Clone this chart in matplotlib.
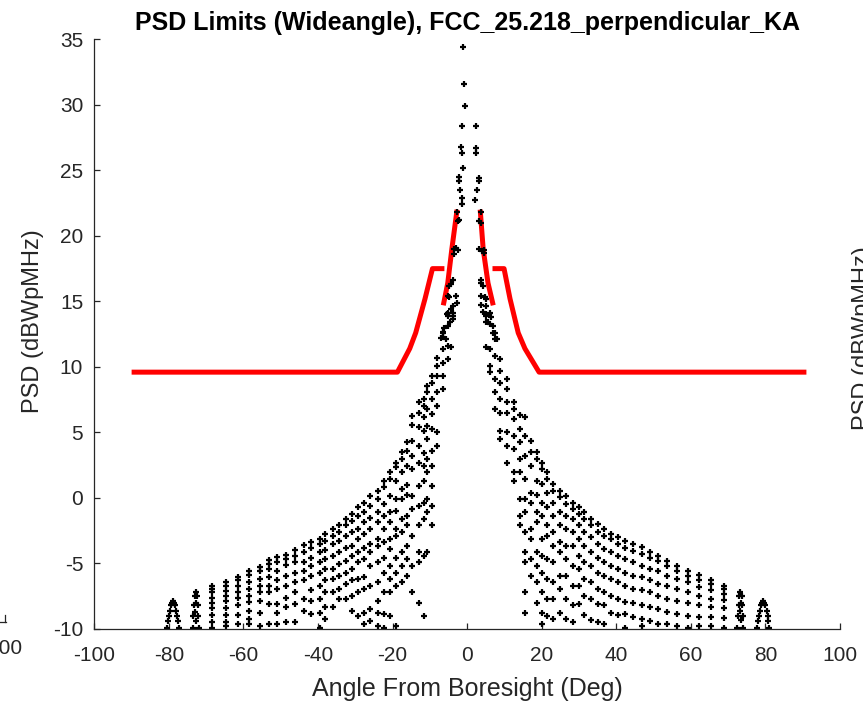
import matplotlib
matplotlib.use("Agg")
import matplotlib.pyplot as plt
from matplotlib.lines import Line2D

plt.rcParams["font.family"] = ["Liberation Sans", "DejaVu Sans"]
plt.rcParams["axes.unicode_minus"] = False

# ---------------- red PSD limit mask ----------------
mask_outer_l_x = [-90.0, -18.7, -15.4, -13.8, -11.3, -9.3, -6.1]
mask_outer_l_y = [9.6, 9.6, 11.4, 12.6, 15.2, 17.5, 17.5]
mask_inner_l_x = [-6.4, -5.2, -4.1, -2.7]
mask_inner_l_y = [14.7, 16.4, 19.0, 22.0]
mask_inner_r_x = [3.5, 4.3, 5.6, 7.0]
mask_inner_r_y = [22.0, 19.0, 16.4, 14.7]
mask_outer_r_x = [6.8, 9.9, 11.5, 13.7, 15.5, 19.3, 91.0]
mask_outer_r_y = [17.5, 17.5, 15.2, 12.6, 11.4, 9.6, 9.6]

# ---------------- black PSD samples ----------------
# main beam / near-in points
core_x = [-1.0, -0.8, -0.6, -1.4, 2.4, -1.6, 2.5, -1.4, 2.5, -1.2, -2.3, -2.3, 3.3, 3.3,
          -1.8, 2.7, -1.4, -1.4, 2.2, -2.7, 3.6, -2.5, -2.1, 3.1, 3.8, -3.4, -3.0, -2.5,
          3.3, 4.0, 4.5, -4.8, -4.2, -3.9, 3.6, 4.2, 3.8, -5.2, -4.8, -3.0, -2.7, 3.8,
          4.7, 3.8, -4.3, -3.9, -4.5, 4.2, 5.1, 5.6, -6.6, -7.0, -5.7, 7.0, 7.9, -4.3, 5.1,
          -3.6, -5.5, -6.2, 4.4, 6.4, 6.9]
core_y = [34.4, 31.6, 29.9, 28.4, 28.4, 26.8, 26.7, 26.3, 26.3, 25.2, 24.5, 24.2, 24.4, 24.2,
          23.5, 23.5, 22.9, 22.4, 22.7, 21.8, 21.8, 21.1, 21.2, 21.1, 21.0, 19.0, 19.1, 18.9,
          19.0, 18.85, 18.9, 16.2, 16.3, 16.6, 16.4, 16.2, 16.6, 15.4, 15.3, 15.4, 14.9, 15.4,
          15.3, 14.7, 14.4, 13.9, 13.4, 14.2, 13.9, 13.4, 12.7, 12.2, 12.1, 12.6, 12.1, 11.5, 11.5,
          18.6, 14.0, 13.0, 18.7, 13.8, 13.1]

# far sidelobe arches
arch_l_x = [-80.5, -80.3, -80.1, -79.8, -79.5, -79.2, -78.9, -78.6, -78.3, -78.0, -77.7, -77.5, -77.3,
            -73.6, -73.5, -73.3, -73.1, -72.8, -72.5, -72.3, -72.1, -72.0, -73.0, -72.6, -72.7]
arch_l_y = [-9.9, -9.4, -9.0, -8.6, -8.2, -8.0, -7.9, -8.0, -8.2, -8.6, -9.0, -9.4, -9.9,
            -9.9, -9.0, -8.2, -7.5, -7.2, -7.5, -8.2, -9.0, -9.9, -8.7, -9.4, -8.0]
arch_r_x = [77.8, 78.0, 78.2, 78.5, 78.8, 79.1, 79.4, 79.7, 80.0, 80.3, 80.6, 80.8, 81.0,
            72.5, 72.6, 72.8, 73.0, 73.3, 73.6, 73.8, 74.0, 74.1, 73.1, 73.5, 73.4]
arch_r_y = [-9.9, -9.4, -9.0, -8.6, -8.2, -8.0, -7.85, -8.0, -8.2, -8.6, -9.0, -9.4, -9.9,
            -9.9, -9.0, -8.2, -7.5, -7.15, -7.5, -8.2, -9.0, -9.9, -8.6, -9.3, -8.0]

# sidelobe columns, left side
cols_l_x = [-68.5, -64.7, -61.4, -58.5, -55.6, -53.1, -50.9, -48.6, -46.3, -43.8, -41.8,
            -39.6, -38.2, -36.1, -34.3, -32.5, -31.0, -29.2, -27.6, -26.0, -24.0, -22.4,
            -20.8, -19.2, -17.4, -16.1, -14.7, -13.0, -11.6, -10.7, -9.4, -8.0, -6.6, -5.2, -3.9]
cols_l_y = [
    [-6.7, -6.95, -7.2, -7.6, -8.0, -8.4, -8.9, -9.5, -9.9],
    [-6.4, -6.7, -7.1, -7.5, -7.85, -8.4, -8.9, -9.5, -9.75],
    [-6.0, -6.3, -6.7, -7.15, -7.6, -8.2, -8.9, -9.6],
    [-5.6, -5.9, -6.45, -6.95, -7.5, -7.95, -8.6, -9.25, -9.6],
    [-5.25, -5.55, -6.15, -6.7, -7.2, -7.85, -8.75, -9.75],
    [-4.7, -5.05, -5.4, -6.05, -6.7, -7.2, -8.1, -9.6],
    [-4.5, -4.9, -5.55, -6.3, -6.95, -8.1, -8.75, -9.6],
    [-4.35, -4.65, -5.15, -5.95, -6.7, -7.6, -8.35, -9.5],
    [-3.95, -4.4, -4.9, -5.7, -6.45, -7.2, -8.1, -9.5],
    [-3.6, -4.15, -4.9, -5.55, -6.3, -7.7, -8.6],
    [-3.35, -3.8, -4.55, -5.2, -5.95, -7.0, -7.85, -8.85],
    [-3.1, -3.5, -4.15, -4.9, -5.7, -6.7, -7.7, -8.75, -9.9],
    [-2.75, -3.25, -4.0, -4.65, -5.4, -6.3, -7.2, -8.35, -9.25],
    [-2.4, -2.9, -3.5, -4.4, -5.4, -6.2, -7.2, -8.35],
    [-2.1, -2.6, -3.25, -4.15, -5.05, -5.95, -6.95, -7.7],
    [-1.6, -2.1, -2.9, -3.8, -4.8, -5.7, -6.6, -7.7],
    [-1.25, -1.75, -2.6, -3.65, -4.4, -5.4, -6.3, -7.45, -8.6],
    [-0.7, -1.35, -2.35, -3.15, -4.15, -4.9, -6.2, -7.2, -9.0],
    [-0.35, -1.1, -1.85, -2.75, -3.8, -4.65, -6.0, -6.95, -8.75, -9.6],
    [0.15, -0.6, -1.5, -2.35, -3.55, -4.15, -5.2, -6.7, -8.5, -9.4],
    [0.55, -0.1, -1.1, -1.85, -3.15, -3.65, -4.9, -6.45, -7.85, -8.75, -9.75],
    [1.3, 0.8, -0.45, -1.35, -2.35, -3.4, -4.55, -5.7, -7.2, -8.85, -9.9],
    [1.95, 1.45, 0.15, -1.1, -1.85, -3.15, -3.9, -5.2, -6.2, -7.2, -9.0],
    [2.7, 2.35, 1.3, -0.1, -1.0, -2.35, -2.9, -4.55, -5.7, -6.7, -9.75],
    [3.5, 3.0, 1.95, 0.7, -0.1, -1.6, -2.6, -4.15, -5.2, -6.45],
    [4.25, 3.6, 2.45, 0.95, 0.2, -1.35, -2.1, -3.65, -4.65, -5.95],
    [6.25, 5.6, 4.35, 3.2, 2.2, 0.15, -0.85, -2.9, -5.2, -7.2],
    [7.3, 6.5, 5.4, 4.0, 2.7, 0.9, -0.6, -2.1, -4.15, -4.9, -8.0],
    [7.55, 7.05, 6.15, 5.1, 3.45, 2.45, 1.3, -0.35, -1.6, -4.4, -9.0],
    [8.55, 8.05, 6.8, 5.5, 4.5, 2.95, 1.95, -0.1, -1.1, -4.15],
    [9.3, 8.8, 7.55, 6.4, 5.25, 3.6, 2.45, 0.9, -0.6, -2.1],
    [10.7, 10.1, 9.3, 8.05, 7.05, 5.0, 3.98],
    [12.6, 12.25, 11.35, 10.3, 9.3, 8.3],
    [14.1, 13.85, 13.1, 11.6, 10.6],
    [14.65, 14.15, 13.65],
]

# sidelobe columns, right side
cols_r_x = [68.9, 65.3, 62.2, 59.3, 56.4, 53.6, 51.3, 49.1, 46.8, 44.5, 42.3, 40.5, 38.7,
            36.7, 35.0, 33.2, 31.4, 30.1, 28.3, 26.5, 24.9, 23.1, 21.5, 20.1, 18.8, 17.0,
            15.6, 14.2, 12.5, 10.7, 8.9, 7.5, 6.0, 5.0]
cols_r_y = [
    [-6.7, -6.95, -7.3, -7.8, -8.4, -9.2, -9.9],
    [-6.3, -6.6, -7.05, -7.7, -8.3, -9.1, -9.8],
    [-5.9, -6.3, -6.8, -7.45, -8.2, -9.1, -9.8],
    [-5.55, -5.95, -6.45, -7.2, -8.0, -9.0, -9.9],
    [-5.2, -5.55, -6.2, -6.95, -7.85, -8.85, -9.75],
    [-4.8, -5.2, -5.95, -6.7, -7.7, -8.7, -9.6],
    [-4.4, -4.8, -5.55, -6.6, -7.45, -8.5, -9.6],
    [-4.15, -4.55, -5.4, -6.3, -7.2, -8.35, -9.4],
    [-3.75, -4.3, -5.2, -6.05, -7.05, -8.2, -9.25, -9.75],
    [-3.5, -4.05, -4.9, -5.95, -6.95, -8.0, -9.1],
    [-3.25, -3.8, -4.65, -5.7, -6.7, -7.95, -8.85, -9.9],
    [-3.0, -3.5, -4.4, -5.4, -6.45, -7.7, -8.95],
    [-2.75, -3.15, -4.15, -5.2, -6.2, -7.45, -8.75],
    [-2.4, -2.9, -3.9, -4.9, -5.95, -7.2, -8.2, -9.6],
    [-2.0, -2.6, -3.5, -4.55, -5.7, -6.95, -8.1, -9.5],
    [-1.6, -2.1, -3.0, -4.15, -5.2, -6.45, -7.7, -9.35],
    [-1.1, -1.6, -2.6, -3.65, -4.9, -6.2, -7.45, -8.95],
    [-0.7, -1.25, -2.1, -3.15, -4.4, -5.4, -6.7, -8.1],
    [-0.35, -0.85, -1.6, -2.6, -3.65, -5.2, -6.7, -8.2, -9.5],
    [0.15, -0.45, -1.35, -2.35, -3.65, -4.65, -5.95, -7.7, -9.25],
    [0.55, 0.05, -1.1, -2.1, -3.4, -4.15, -5.95, -6.95, -8.75],
    [1.05, 0.55, -0.35, -1.35, -2.6, -3.65, -4.9, -6.45, -7.7, -9.25],
    [1.95, 1.45, 0.4, -0.7, -2.1, -2.9, -4.65, -6.2, -7.7, -9.0],
    [2.7, 2.2, 1.05, -0.35, -1.35, -3.15, -4.4, -5.7, -7.2, -8.75, -9.6],
    [3.5, 2.95, 1.3, 0.2, -1.1, -1.85, -4.15, -5.2, -6.45, -8.0],
    [4.35, 3.5, 2.45, 0.4, -0.35, -2.35, -3.15, -4.65, -5.95],
    [6.15, 4.75, 3.2, 1.45, -0.1, -1.1, -2.6, -4.15, -4.9, -7.2, -8.75],
    [6.3, 5.25, 4.25, 3.0, 2.0, -0.1, -1.35, -2.1],
    [7.3, 6.8, 6.0, 4.75, 3.75, 1.95, 1.3],
    [9.05, 8.3, 7.3, 6.5, 5.0, 3.98, 2.7],
    [10.6, 9.7, 8.8, 7.55, 6.5, 5.1, 4.5],
    [12.6, 12.1, 10.85, 9.05, 8.05, 6.75],
    [14.15, 13.25, 11.35, 10.1, 9.6],
    [15.15, 14.65, 14.0, 13.4],
]

# flatten the columns into x/y point lists
pts_x = core_x + arch_l_x + arch_r_x
pts_y = core_y + arch_l_y + arch_r_y
for cx, cy in zip(cols_l_x + cols_r_x, cols_l_y + cols_r_y):
    pts_x += [cx] * len(cy)
    pts_y += cy

# ---------------- figure ----------------
fig = plt.figure(figsize=(8.63, 7.06), dpi=100)
ax = fig.add_axes([0.1093, 0.1091, 0.9733 - 0.1093, 0.9443 - 0.1091])

for mx, my in [(mask_outer_l_x, mask_outer_l_y), (mask_inner_l_x, mask_inner_l_y),
               (mask_inner_r_x, mask_inner_r_y), (mask_outer_r_x, mask_outer_r_y)]:
    ax.plot(mx, my, color="red", linewidth=3.6, solid_capstyle="butt")

ax.plot(pts_x, pts_y, linestyle="none", marker="+", color="black",
        markersize=4.5, markeredgewidth=1.6)

ax.set_xlim(-100, 100)
ax.set_ylim(-10, 35)
ax.set_xticks(range(-100, 101, 20))
ax.set_yticks(range(-10, 36, 5))

dark = "#262626"
for side in ["top", "right"]:
    ax.spines[side].set_visible(False)
for side in ["left", "bottom"]:
    ax.spines[side].set_color(dark)
    ax.spines[side].set_linewidth(0.9)
ax.tick_params(direction="in", length=4.5, width=0.9, colors=dark, labelsize=15)
ax.tick_params(axis="x", pad=12)
ax.tick_params(axis="y", pad=8)

ax.set_title("PSD Limits (Wideangle), FCC_25.218_perpendicular_KA",
             fontsize=18, fontweight="bold", pad=7)
ax.set_xlabel("Angle From Boresight (Deg)", fontsize=18, color=dark, labelpad=9)
ax.set_ylabel("PSD (dBWpMHz)", fontsize=17, color=dark)
ax.yaxis.set_label_coords(-0.067, 0.522)

# pieces of the neighbouring subplots that are cut by the frame
fig.text(22 / 863, 1 - 648 / 706, "100", ha="right", va="center", fontsize=15, color=dark)
fig.add_artist(Line2D([0, 6 / 863], [1 - 622 / 706] * 2, transform=fig.transFigure,
                      color=dark, linewidth=0.9))
fig.add_artist(Line2D([5 / 863] * 2, [1 - 622 / 706, 1 - 615 / 706], transform=fig.transFigure,
                      color=dark, linewidth=0.9))
fig.text(852 / 863, 1 - 338 / 706, "PSD (dBWpMHz)", ha="left", va="center",
         rotation=90, fontsize=17, color=dark)

fig.savefig("out.png", dpi=100)
